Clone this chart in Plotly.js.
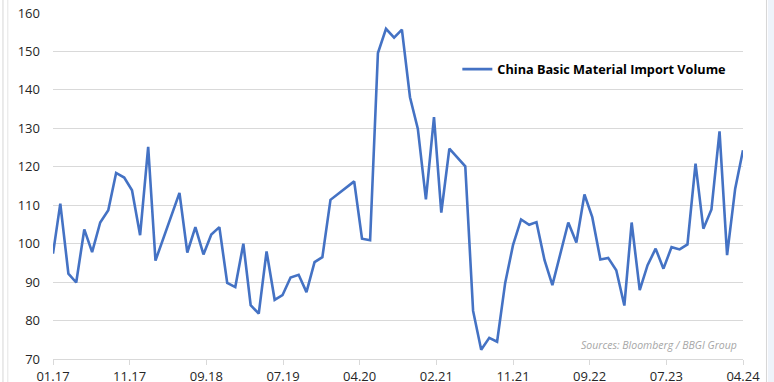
<!DOCTYPE html>
<html>
<head>
<meta charset="utf-8">
<script src="https://cdn.plot.ly/plotly-3.0.1.min.js"></script>
<style>
  html, body { margin: 0; padding: 0; background: #ffffff; }
  #chart { width: 774px; height: 382px; }
</style>
</head>
<body>
<div id="chart"></div>
<script>
// Months present in the series (YYYY-MM); some months are absent in the source data
const months = [
  "2017-01","2017-02","2017-03","2017-04","2017-05","2017-06","2017-07","2017-08","2017-09","2017-10","2017-11","2017-12",
  "2018-01","2018-02","2018-05","2018-06","2018-07","2018-08","2018-09","2018-10","2018-11","2018-12",
  "2019-01","2019-02","2019-03","2019-04","2019-05","2019-06","2019-07","2019-08","2019-09","2019-10","2019-11","2019-12",
  "2020-03","2020-04","2020-05","2020-06","2020-07","2020-08","2020-09","2020-10","2020-11","2020-12",
  "2021-01","2021-02","2021-03","2021-05","2021-06","2021-07","2021-08","2021-09","2021-10","2021-11","2021-12",
  "2022-01","2022-02","2022-03","2022-04","2022-05","2022-06","2022-07","2022-08","2022-09","2022-10","2022-11","2022-12",
  "2023-01","2023-02","2023-03","2023-04","2023-05","2023-06","2023-07","2023-08","2023-09","2023-10","2023-11","2023-12",
  "2024-01","2024-02","2024-03","2024-04"
];

// China Basic Material Import Volume
const importVolume = [
  97.4, 110.4, 92.2, 89.9, 103.7, 97.8, 105.5, 108.7, 118.4, 117.2, 113.9, 102.2,
  125.2, 95.6, 113.2, 97.7, 104.3, 97.2, 102.4, 104.3, 89.8, 88.7,
  100.0, 84.0, 81.8, 98.0, 85.4, 86.6, 91.2, 91.9, 87.4, 95.2, 96.5, 111.4,
  116.2, 101.3, 100.9, 149.6, 155.9, 153.6, 155.7, 138.1, 129.9, 111.5,
  132.9, 108.1, 124.7, 120.1, 82.5, 72.4, 75.5, 74.5, 89.8, 99.6, 106.3,
  104.9, 105.6, 95.7, 89.2, 97.2, 105.5, 100.3, 112.8, 106.9, 95.9, 96.3, 93.1,
  83.9, 105.5, 87.9, 94.4, 98.7, 93.5, 99.1, 98.5, 99.8, 120.8, 103.9, 108.9,
  129.2, 97.0, 114.3, 124.3
];

const seriesName = "China Basic Material Import Volume";
const sourceText = "Sources: Bloomberg / BBGI Group";

// observations are dated at month end
function monthEnd(ym) {
  const [y, m] = ym.split("-").map(Number);
  const d = new Date(Date.UTC(y, m, 0));
  return d.toISOString().slice(0, 10);
}
const dates = months.map(monthEnd);

const firstDate = dates[0];
const lastDate = dates[dates.length - 1];
const nTickIntervals = 9;
const spanMs = Date.parse(lastDate) - Date.parse(firstDate);

const trace = {
  x: dates,
  y: importVolume,
  type: "scatter",
  mode: "lines",
  name: seriesName,
  line: { color: "#4472C4", width: 2.6 },
  showlegend: true
};

const layout = {
  width: 774,
  height: 382,
  margin: { l: 53, r: 31, t: 13, b: 23 },
  paper_bgcolor: "#ffffff",
  plot_bgcolor: "#ffffff",
  font: { family: "Open Sans, sans-serif", size: 13, color: "#262626" },
  xaxis: {
    type: "date",
    range: [firstDate, lastDate],
    tickmode: "linear",
    tick0: firstDate,
    dtick: spanMs / nTickIntervals,
    tickformat: "%m.%y",
    showgrid: false,
    showline: true,
    linecolor: "#d9d9d9",
    linewidth: 1,
    ticks: "outside",
    ticklen: 5,
    tickcolor: "#d9d9d9",
    tickfont: { size: 13, color: "#262626" },
    zeroline: false,
    fixedrange: true
  },
  yaxis: {
    range: [70, 160],
    tickmode: "linear",
    tick0: 70,
    dtick: 10,
    showgrid: true,
    gridcolor: "#d9d9d9",
    gridwidth: 1,
    zeroline: false,
    showline: false,
    ticks: "",
    ticklabelstandoff: 12,
    tickfont: { size: 13, color: "#262626" },
    fixedrange: true
  },
  legend: {
    x: 0.586,
    y: 0.837,
    xanchor: "left",
    yanchor: "middle",
    bgcolor: "rgba(0,0,0,0)",
    borderwidth: 0,
    itemwidth: 30,
    font: { family: "Open Sans, sans-serif", size: 12.7, color: "#000000", weight: "bold" }
  },
  annotations: [
    {
      text: sourceText,
      xref: "paper", yref: "paper",
      x: 0.994, y: 0.04,
      xanchor: "right", yanchor: "middle",
      showarrow: false,
      font: { family: "Open Sans, sans-serif", size: 10.5, color: "#a6a6a6", style: "italic" }
    }
  ],
  shapes: [
    { type: "line", xref: "paper", yref: "paper", x0: -0.0725, x1: -0.0725, y0: -0.07, y1: 1.04, line: { color: "#d6d6d6", width: 1 } },
    { type: "line", xref: "paper", yref: "paper", x0: -0.0655, x1: -0.0655, y0: -0.07, y1: 1.04, line: { color: "#e4e4e4", width: 1 } },
    { type: "line", xref: "paper", yref: "paper", x0: 1.034, x1: 1.034, y0: -0.07, y1: 1.04, line: { color: "#d6d6d6", width: 1 } },
    { type: "rect", xref: "paper", yref: "paper", x0: 1.036, x1: 1.05, y0: -0.07, y1: 1.04, fillcolor: "#eef3fa", line: { width: 0 } }
  ]
};

Plotly.newPlot("chart", [trace], layout, { displayModeBar: false, staticPlot: true });
</script>
</body>
</html>
